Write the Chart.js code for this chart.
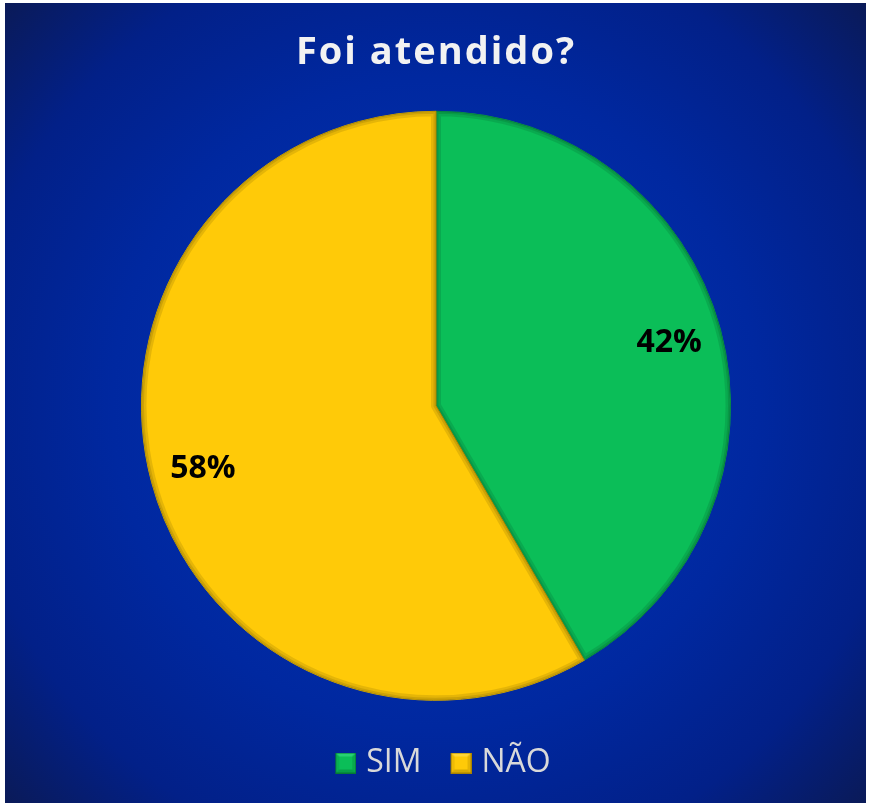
<!DOCTYPE html>
<html>
<head>
<meta charset="utf-8">
<script src="https://cdn.jsdelivr.net/npm/chart.js@4"></script>
<style>
  html, body { margin: 0; padding: 0; background: #ffffff; }
  #wrap { position: absolute; left: 5px; top: 3px; width: 861px; height: 800px; }
</style>
</head>
<body>
<div id="wrap"><canvas id="c"></canvas></div>
<script>
const chartTitle = 'Foi atendido?';
const categories = ['SIM', 'NÃO'];
const values = [41.6, 58.4];
const sliceColors = ['#0BBE58', '#FFCA08'];
const edgeColors = ['#0A9A48', '#D8AA00'];
const markerDark = ['#057A35', '#A88200'];
const markerLight = ['#3FE08A', '#FFE060'];

function makeMarker(i) {
  const s = 21, L = 12;
  const cv = document.createElement('canvas');
  cv.width = s + L; cv.height = s;
  const c = cv.getContext('2d');
  c.translate(L, 0);
  c.fillStyle = sliceColors[i];
  c.fillRect(0, 0, s, s);
  const b = 4;
  c.fillStyle = markerLight[i];
  c.beginPath(); c.moveTo(0, 0); c.lineTo(s, 0); c.lineTo(s / 2, s / 2); c.closePath(); c.globalAlpha = 0.55; c.fill();
  c.fillStyle = markerDark[i];
  c.beginPath(); c.moveTo(0, s); c.lineTo(s, s); c.lineTo(s / 2, s / 2); c.closePath(); c.globalAlpha = 0.45; c.fill();
  c.beginPath(); c.moveTo(0, 0); c.lineTo(0, s); c.lineTo(s / 2, s / 2); c.closePath(); c.globalAlpha = 0.2; c.fill();
  c.beginPath(); c.moveTo(s, 0); c.lineTo(s, s); c.lineTo(s / 2, s / 2); c.closePath(); c.globalAlpha = 0.3; c.fill();
  c.globalAlpha = 1;
  c.fillStyle = sliceColors[i];
  c.fillRect(b, b, s - 2 * b, s - 2 * b);
  c.strokeStyle = markerDark[i];
  c.lineWidth = 1;
  c.strokeRect(0.5, 0.5, s - 1, s - 1);
  return cv;
}
const markers = categories.map((_, i) => makeMarker(i));

const bgPlugin = {
  id: 'bg',
  beforeDraw(chart) {
    const { ctx, width, height } = chart;
    const cx = width * 0.5, cy = height * 0.5;
    const g = ctx.createRadialGradient(cx, cy, 0, cx, cy, Math.hypot(cx, cy));
    g.addColorStop(0, '#0838B8');
    g.addColorStop(0.55, '#0028A0');
    g.addColorStop(0.8, '#022088');
    g.addColorStop(1, '#0A1A58');
    ctx.save();
    ctx.fillStyle = g;
    ctx.fillRect(0, 0, width, height);
    ctx.restore();
  },
  afterLayout(chart) {
    const tb = chart.titleBlock;
    if (tb && !tb._spaced) {
      const orig = tb.draw.bind(tb);
      tb.draw = function () {
        const ctx = this.ctx;
        const prev = ctx.letterSpacing;
        ctx.letterSpacing = '2px';
        orig();
        ctx.letterSpacing = prev || '0px';
      };
      tb._spaced = true;
    }
    const lg = chart.legend;
    if (lg) { lg.left += 4; lg.right += 4; lg.top -= 3; lg.bottom -= 3; }
  }
};

const bevelPlugin = {
  id: 'bevel',
  afterDatasetsDraw(chart) {
    const { ctx } = chart;
    const meta = chart.getDatasetMeta(0);
    meta.data.forEach((arc, i) => {
      const { x, y, startAngle, endAngle, outerRadius } = arc.getProps(['x', 'y', 'startAngle', 'endAngle', 'outerRadius'], true);
      ctx.save();
      ctx.beginPath();
      ctx.moveTo(x, y);
      ctx.arc(x, y, outerRadius, startAngle, endAngle);
      ctx.closePath();
      ctx.clip();
      ctx.lineJoin = 'round';
      ctx.strokeStyle = 'rgba(0,0,0,0.10)';
      ctx.lineWidth = 10;
      ctx.stroke();
      ctx.strokeStyle = 'rgba(0,0,0,0.10)';
      ctx.lineWidth = 5;
      ctx.stroke();
      ctx.restore();
    });
  }
};

const labelPlugin = {
  id: 'pctLabels',
  afterDatasetsDraw(chart) {
    const { ctx } = chart;
    const meta = chart.getDatasetMeta(0);
    const data = chart.data.datasets[0].data;
    const total = data.reduce((a, b) => a + b, 0);
    ctx.save();
    ctx.font = 'bold 32px "Open Sans", "Noto Sans", sans-serif';
    ctx.fillStyle = '#000000';
    ctx.textAlign = 'center';
    ctx.textBaseline = 'middle';
    meta.data.forEach((arc, i) => {
      const { x, y, startAngle, endAngle, outerRadius } = arc.getProps(['x', 'y', 'startAngle', 'endAngle', 'outerRadius'], true);
      const mid = (startAngle + endAngle) / 2;
      const r = outerRadius * 0.82;
      const txt = Math.round(data[i] / total * 100) + '%';
      ctx.fillText(txt, x + Math.cos(mid) * r, y + Math.sin(mid) * r);
    });
    ctx.restore();
  }
};

new Chart(document.getElementById('c'), {
  type: 'pie',
  data: {
    labels: categories,
    datasets: [{
      data: values,
      backgroundColor: sliceColors,
      borderColor: edgeColors,
      borderWidth: 1
    }]
  },
  options: {
    responsive: true,
    maintainAspectRatio: false,
    animation: false,
    layout: { padding: { left: 136, right: 135, top: 0, bottom: 11 } },
    plugins: {
      title: {
        display: true,
        text: chartTitle,
        color: '#F2F2F2',
        font: { family: '"Open Sans", "Noto Sans", sans-serif', size: 38, weight: 'bold' },
        padding: { top: 27, bottom: 9 }
      },
      legend: {
        display: true,
        position: 'bottom',
        labels: {
          color: '#D9D9D9',
          font: { family: '"Open Sans", "Noto Sans", sans-serif', size: 32 },
          boxWidth: 21,
          boxHeight: 21,
          pointStyleWidth: 21,
          usePointStyle: true,
          padding: 23,
          generateLabels(chart) {
            const items = Chart.overrides.pie.plugins.legend.labels.generateLabels(chart);
            items.forEach((it, i) => { it.pointStyle = markers[i]; });
            return items;
          }
        }
      },
      tooltip: { enabled: false }
    }
  },
  plugins: [bgPlugin, bevelPlugin, labelPlugin]
});
</script>
</body>
</html>
